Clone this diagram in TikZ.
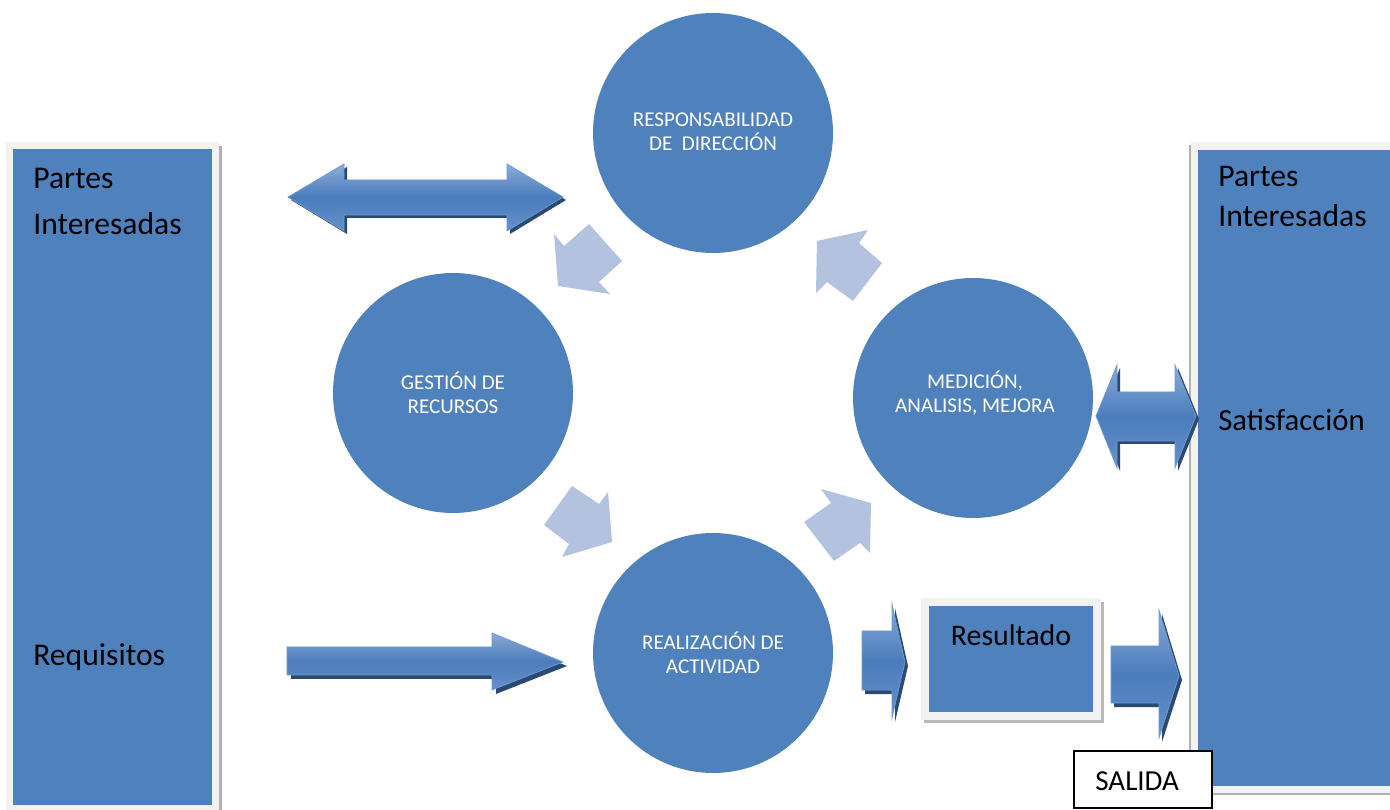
\documentclass[tikz,border=0pt]{standalone}
\usepackage{fontspec}
\setmainfont{Carlito}
\definecolor{pblue}{HTML}{4F81BD}
\definecolor{plight}{HTML}{B3C3DF}
\definecolor{pframe}{HTML}{F2F2F2}
\definecolor{pshadow}{HTML}{2B4A72}
\definecolor{ptop}{HTML}{8AABD8}
\definecolor{pmid}{HTML}{4A7CBC}
\definecolor{pbot}{HTML}{6890C8}
\definecolor{pedge}{HTML}{6E9AD3}
\tikzset{
  circ/.style={circle,fill=pblue,minimum size=4.8cm,inner sep=0pt},
  ctext/.style={text=white,align=center,font=\fontsize{12}{13.6}\selectfont},
  bigtext/.style={font=\fontsize{18}{22}\selectfont,inner sep=0pt},
  darrow/.style={top color=ptop,bottom color=pbot,middle color=pmid,draw=pedge,line width=0.4pt},
  dshadow/.style={fill=pshadow},
  larrow/.style={fill=plight},
}
\begin{document}
\begin{tikzpicture}[x=0.02cm,y=-0.02cm]
\useasboundingbox (0,0) rectangle (1390,810);
\fill[white] (0,0) rectangle (1390,810);

% left panel
\fill[gray!60] (9,146) rectangle (222,810);
\fill[pframe] (6,142) rectangle (219,810);
\fill[pblue] (13,149) rectangle (212,805);
\node[bigtext,anchor=base west] (lp1) at (33,189) {Partes};
\node[bigtext,anchor=base west] (lp2) at (33,235) {Interesadas};
\node[bigtext,anchor=base west] (lreq) at (33,665) {Requisitos};

% right panel
\fill[gray!60] (1189,145) rectangle (1390,795);
\fill[pframe] (1191,142) rectangle (1390,793);
\fill[pblue] (1198,150) rectangle (1390,786);
\node[bigtext,anchor=base west] (rp1) at (1218,187) {Partes};
\node[bigtext,anchor=base west] (rp2) at (1218,227) {Interesadas};
\node[bigtext,anchor=base west,font=\fontsize{17.5}{21}\selectfont] (rsat) at (1218,431) {Satisfacción};

% circles
\node[circ] (resp) at (713,133) {};
\node[circ] (gest) at (453,393) {};
\node[circ] (med) at (973,398) {};
\node[circ] (real) at (713,653) {};
\node[ctext] (tresp) at (713,132) {RESPONSABILIDAD\\DE\ \ DIRECCIÓN};
\node[ctext] (tgest) at (453,393) {GESTIÓN DE\\RECURSOS};
\node[ctext] (tmed) at (975,393) {MEDICIÓN,\\ANALISIS, MEJORA};
\node[ctext] (treal) at (713,653) {REALIZACIÓN DE\\ACTIVIDAD};

% light arrows
\fill[larrow] (554,234) -- (564,246) -- (589,224) -- (622,261) -- (599,282) -- (610,294) -- (558,286) -- cycle;
\fill[larrow] (817,241) -- (868,230) -- (859,243) -- (882,263) -- (853,301) -- (827,282) -- (816,293) -- cycle;
\fill[larrow] (572,486) -- (599,504) -- (608,492) -- (612,542) -- (562,557) -- (569,544) -- (544,525) -- cycle;
\fill[larrow] (821,489) -- (871,503) -- (870,553) -- (860,543) -- (834,561) -- (804,522) -- (831,503) -- cycle;

% top double arrow
\begin{scope}[shift={(3,3)}]
\fill[dshadow] (288,197) -- (344,164) -- (344,180) -- (507,180) -- (507,164) -- (563,197) -- (507,231) -- (507,215) -- (344,215) -- (344,231) -- cycle;
\end{scope}
\path[darrow] (288,197) -- (344,164) -- (344,180) -- (507,180) -- (507,164) -- (563,197) -- (507,231) -- (507,215) -- (344,215) -- (344,231) -- cycle;

% right double arrow
\begin{scope}[shift={(3,3)}]
\fill[dshadow] (1096,416) -- (1117,365) -- (1117,392) -- (1175,392) -- (1175,365) -- (1196,416) -- (1175,468) -- (1175,441) -- (1117,441) -- (1117,468) -- cycle;
\end{scope}
\path[darrow] (1096,416) -- (1117,365) -- (1117,392) -- (1175,392) -- (1175,365) -- (1196,416) -- (1175,468) -- (1175,441) -- (1117,441) -- (1117,468) -- cycle;

% requisitos arrow
\begin{scope}[shift={(4,4)}]
\fill[dshadow] (287,647) -- (492,647) -- (492,633) -- (563,662) -- (492,690) -- (492,675) -- (287,675) -- cycle;
\end{scope}
\path[darrow] (287,647) -- (492,647) -- (492,633) -- (563,662) -- (492,690) -- (492,675) -- (287,675) -- cycle;

% arrow before resultado
\begin{scope}[shift={(3,4)}]
\fill[dshadow] (862,631) -- (892,631) -- (892,604) -- (905,662) -- (892,718) -- (892,690) -- (862,690) -- cycle;
\end{scope}
\path[darrow] (862,631) -- (892,631) -- (892,604) -- (905,662) -- (892,718) -- (892,690) -- (862,690) -- cycle;

% arrow after resultado
\begin{scope}[shift={(3,4)}]
\fill[dshadow] (1111,646) -- (1159,646) -- (1159,610) -- (1179,676) -- (1159,738) -- (1159,703) -- (1111,703) -- cycle;
\end{scope}
\path[darrow] (1111,646) -- (1159,646) -- (1159,610) -- (1179,676) -- (1159,738) -- (1159,703) -- (1111,703) -- cycle;

% resultado box
\fill[gray!55] (924,602) rectangle (1104,723);
\fill[pframe] (921,598) rectangle (1101,720);
\fill[pblue] (929,606) rectangle (1093,712);
\node[bigtext,anchor=base,font=\fontsize{17}{21}\selectfont] (tres) at (1011,645) {Resultado};

% salida
\draw[fill=white,line width=0.9pt] (1074,751) rectangle (1212,808);
\node[font=\fontsize{16.5}{20}\selectfont,anchor=base west,inner sep=0pt] (tsal) at (1095,790) {SALIDA};
\end{tikzpicture}
\end{document}
